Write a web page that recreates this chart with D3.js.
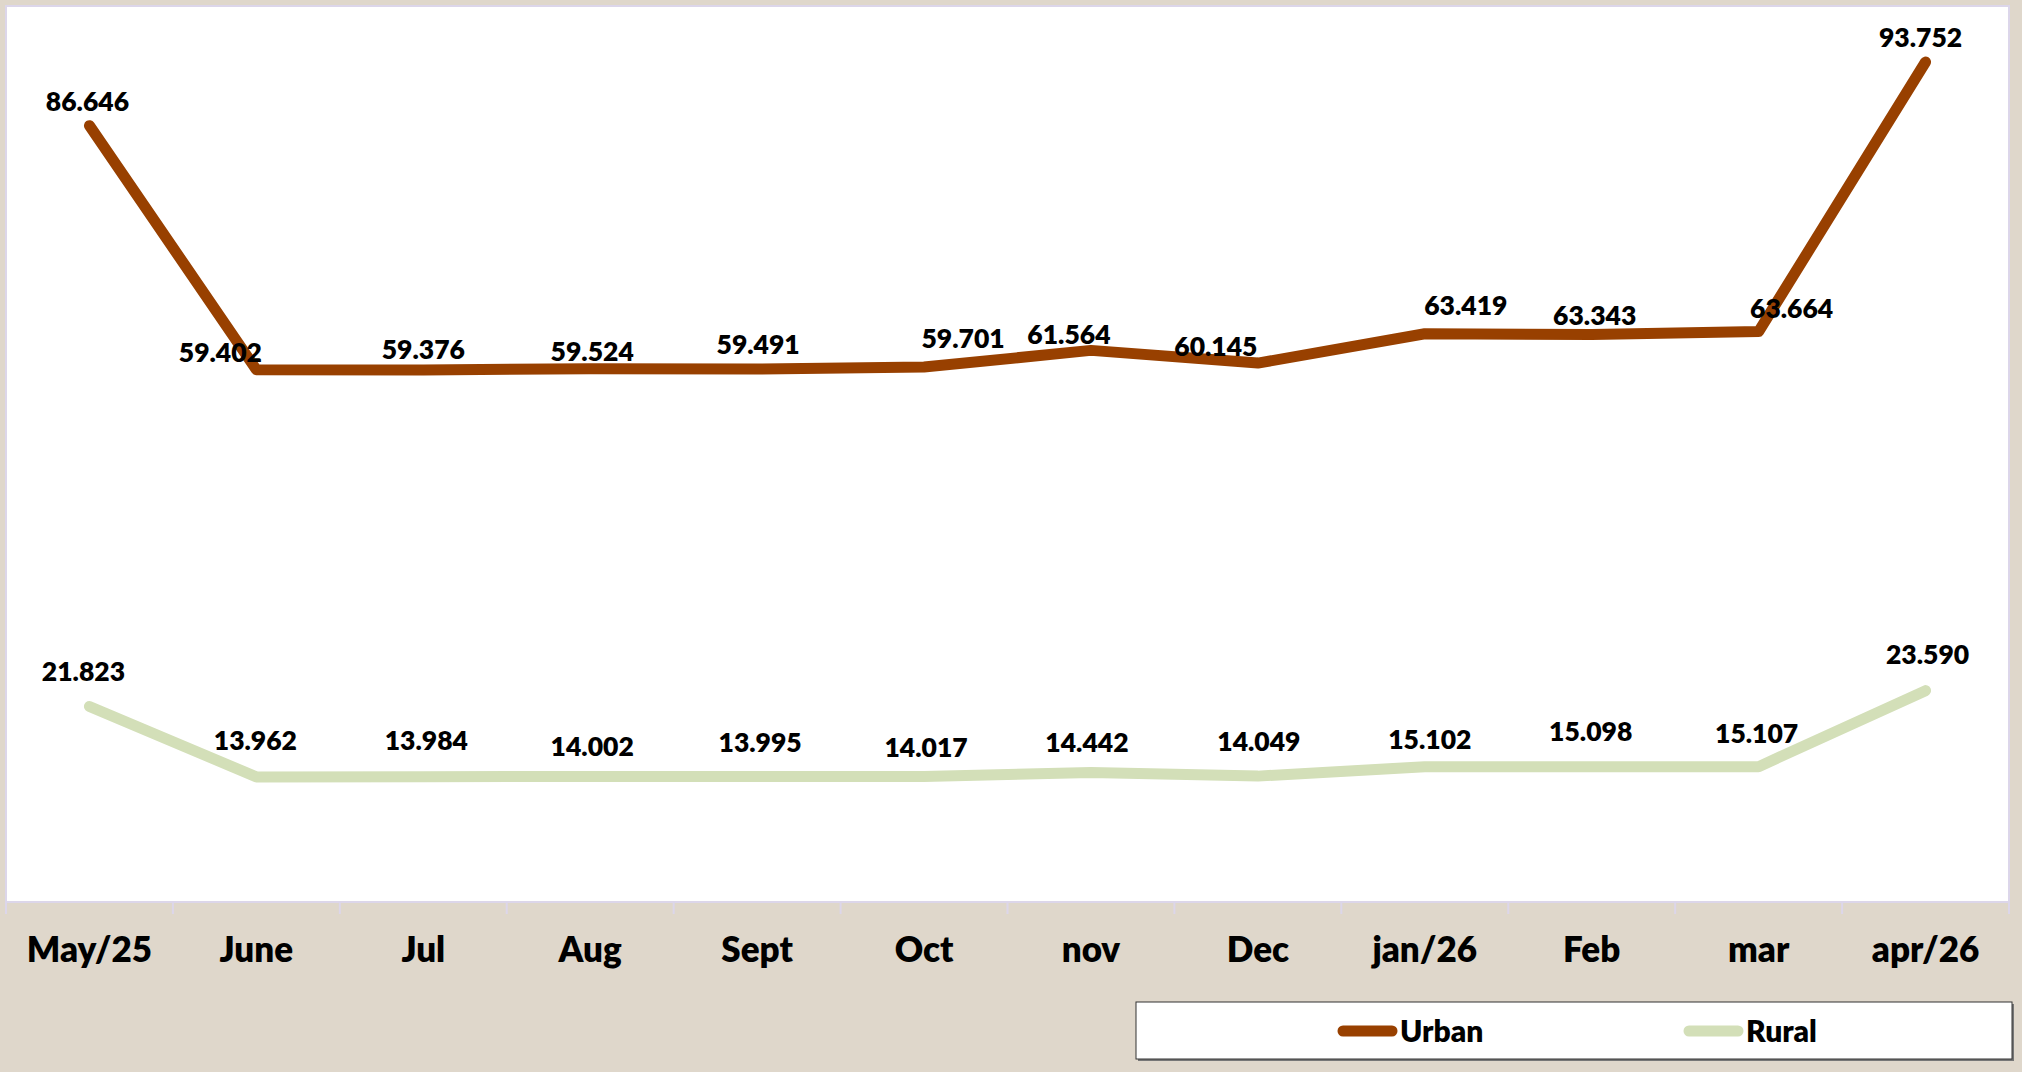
<!DOCTYPE html>
<html>
<head>
<meta charset="utf-8">
<script src="https://cdn.jsdelivr.net/npm/d3@7"></script>
<style>
  body { margin: 0; background: #dfd7cb; }
  svg { display: block; }
  text { font-family: Lato, "Noto Sans", sans-serif; font-weight: 800; fill: #000; }
</style>
</head>
<body>
<div id="chart"></div>
<script>
// chart data
const months = ["May/25","June","Jul","Aug","Sept","Oct","nov","Dec","jan/26","Feb","mar","apr/26"];
const urban  = [86.646, 59.402, 59.376, 59.524, 59.491, 59.701, 61.564, 60.145, 63.419, 63.343, 63.664, 93.752];
const rural  = [21.823, 13.962, 13.984, 14.002, 13.995, 14.017, 14.442, 14.049, 15.102, 15.098, 15.107, 23.590];

// hand nudges for data labels (the source chart has them moved around)
const urbanDx = [-2, -36, 0, 2, 1, 39, -22, -42, 41, 3, 33, -5];
const urbanDy = [-24, -17, -21, -17, -25, -29, -16, -17, -28, -19, -23, -25];
const ruralDx = [-6, -1, 3, 2, 3, 2, -4, 1, 5, -1, -2, 2];
const ruralDy = [-35, -36, -36, -30, -34, -29, -30, -35, -27, -35, -33, -36];

const width = 2022, height = 1072;
const plot = {left: 6, right: 2009, top: 6, bottom: 902};

let svg = d3.select("#chart")
            .append("svg")
            .attr("width", width)
            .attr("height", height);

//background
svg.append("rect")
   .attr("width", width).attr("height", height)
   .style("fill", "#dfd7cb");

//plot area
svg.append("rect")
   .attr("x", plot.left).attr("y", plot.top)
   .attr("width", plot.right - plot.left)
   .attr("height", plot.bottom - plot.top)
   .style("fill", "#fff")
   .style("stroke", "#dcd6ea")
   .style("stroke-width", 2);

//scales
let x = d3.scaleBand().domain(months).range([plot.left, plot.right]).padding(0);
let y = d3.scaleLinear().domain([0, 100]).range([plot.bottom, plot.top]);
let cx = function(d, i) { return x(months[i]) + x.bandwidth()/2; };

//tick marks sit on the band edges
svg.append("g")
   .selectAll("line")
   .data(d3.range(months.length + 1))
   .enter()
   .append("line")
   .attr("x1", function(i) { return plot.left + i*x.step(); })
   .attr("x2", function(i) { return plot.left + i*x.step(); })
   .attr("y1", plot.bottom)
   .attr("y2", plot.bottom + 12)
   .style("stroke", "#dcd6ea")
   .style("stroke-width", 2);

//month labels
let xAxis = svg.append("g")
               .attr("transform", `translate(0,${plot.bottom})`)
               .call(d3.axisBottom(x).tickSize(0).tickPadding(35));
xAxis.select(".domain").remove();
xAxis.selectAll("text")
     .style("font-family", "Lato, 'Noto Sans', sans-serif")
     .style("font-weight", "800")
     .style("font-size", "35px")
     .style("fill", "#000");

//lines
let line = d3.line()
             .x(function(d, i) { return cx(d, i); })
             .y(function(d) { return y(d); });

const series = [
  {name: "Urban", values: urban, color: "#984000", dx: urbanDx, dy: urbanDy},
  {name: "Rural", values: rural, color: "#d3dfb8", dx: ruralDx, dy: ruralDy}
];

series.slice().reverse().forEach(function(s) {
  svg.append("path")
     .datum(s.values)
     .attr("d", line)
     .style("fill", "none")
     .style("stroke", s.color)
     .style("stroke-width", 11)
     .style("stroke-linecap", "round")
     .style("stroke-linejoin", "round");
});

//data labels
series.forEach(function(s) {
  svg.append("g")
     .selectAll("text")
     .data(s.values)
     .enter()
     .append("text")
     .attr("x", function(d, i) { return cx(d, i) + s.dx[i]; })
     .attr("y", function(d, i) { return y(d) + s.dy[i]; })
     .attr("dy", "0.36em")
     .style("text-anchor", "middle")
     .style("font-size", "26.5px")
     .text(function(d) { return d3.format(".3f")(d); });
});

//legend box
let legend = svg.append("g");
legend.append("rect")
      .attr("x", 1138).attr("y", 1004)
      .attr("width", 876).attr("height", 57)
      .style("fill", "#777");
legend.append("rect")
      .attr("x", 1136).attr("y", 1002)
      .attr("width", 876).attr("height", 57)
      .style("fill", "#fff")
      .style("stroke", "#333")
      .style("stroke-width", 1);

const legendX = [1338, 1684];
series.forEach(function(s, i) {
  legend.append("line")
        .attr("x1", legendX[i] + 5).attr("x2", legendX[i] + 54)
        .attr("y1", 1031).attr("y2", 1031)
        .style("stroke", s.color)
        .style("stroke-width", 11)
        .style("stroke-linecap", "round");
  legend.append("text")
        .attr("x", legendX[i] + 62)
        .attr("y", 1031)
        .attr("dy", "0.36em")
        .style("font-size", "30px")
        .text(s.name);
});
</script>
</body>
</html>
